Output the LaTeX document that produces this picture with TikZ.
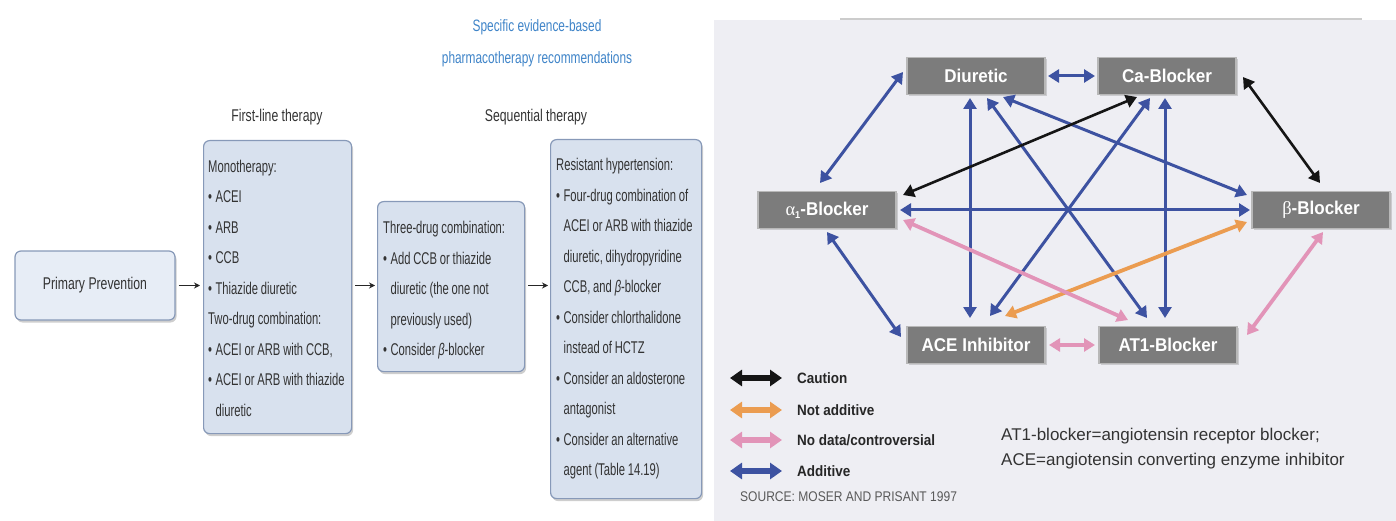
\documentclass[tikz,border=0pt]{standalone}
\usepackage{fontspec}
\setmainfont{Liberation Sans}
\newfontfamily\cond[FakeStretch=0.72]{Liberation Sans}
\newfontfamily\condb[FakeStretch=0.66]{Liberation Sans}
\newfontfamily\boxf[FakeStretch=0.92]{Liberation Sans}
\newfontfamily\legf[FakeStretch=0.9]{Liberation Sans}
\newfontfamily\srcf[FakeStretch=0.86]{Liberation Sans}
\newfontfamily\grk{Liberation Serif}
\usetikzlibrary{arrows.meta,shadows,calc}
\definecolor{boxfill}{HTML}{D8E1EE}
\definecolor{boxedge}{HTML}{8799B8}
\definecolor{ppfill}{HTML}{E7EDF6}
\definecolor{drugfill}{HTML}{7C7C7C}
\definecolor{drugedge}{HTML}{B8B8B8}
\definecolor{panelbg}{HTML}{EEEEF3}
\definecolor{addblue}{HTML}{3D52A1}
\definecolor{cautblack}{HTML}{151515}
\definecolor{notorange}{HTML}{EB9C50}
\definecolor{nodpink}{HTML}{E294B8}
\definecolor{titleblue}{HTML}{3F84C8}
\definecolor{txt}{HTML}{333333}
\newcommand\mybul{\textbullet\hspace{3.5pt}}
\newcommand\myind{\phantom{\textbullet}\hspace{3.5pt}}
\newcommand\condbody{\condb\fontsize{17}{30.5}\selectfont\setlength{\spaceskip}{2.8pt plus 1pt minus 0.5pt}}
\newcommand\condpp{\cond\fontsize{17}{20}\selectfont\setlength{\spaceskip}{3.4pt plus 1pt minus 0.5pt}}
\newcommand\condhead{\cond\fontsize{17}{18}\selectfont\setlength{\spaceskip}{3.4pt plus 1pt minus 0.5pt}}
\begin{document}
\begin{tikzpicture}[x=1pt,y=-1pt,
  flowbox/.style={draw=boxedge, fill=boxfill, rounded corners=6pt, line width=1.2pt,
    drop shadow={shadow xshift=1.5pt, shadow yshift=-2.5pt, opacity=.35, fill=black!55},
    inner sep=0pt},
  boxtext/.style={font=\condbody, text=txt, align=left, inner sep=0pt, anchor=west},
  title/.style={font=\cond\fontsize{16.5}{18}\selectfont, text=titleblue, inner sep=0pt},
  head/.style={font=\condhead, text=txt, inner sep=0pt},
  flowarr/.style={-{Stealth[length=6pt,width=6pt]}, line width=1pt, draw=black!85},
  drug/.style={fill=drugfill, draw=drugedge, line width=1.6pt, text=white,
    font=\boxf\bfseries\fontsize{18.5}{20}\selectfont, minimum width=138pt, minimum height=37pt, inner sep=0pt,
    drop shadow={shadow xshift=1.5pt, shadow yshift=-1.5pt, opacity=.25, fill=black!60}},
  dbl/.style={{Triangle[length=11pt,width=13pt]}-{Triangle[length=11pt,width=13pt]}, line width=3pt},
  addarr/.style={dbl, draw=addblue, fill=addblue},
  cautarr/.style={dbl, line width=2.6pt, draw=cautblack, fill=cautblack},
  notarr/.style={dbl, line width=3.8pt, draw=notorange, fill=notorange},
  nodarr/.style={dbl, line width=3.8pt, draw=nodpink, fill=nodpink},
  legarr/.style={{Triangle[length=12pt,width=16pt]}-{Triangle[length=12pt,width=16pt]}, line width=5.5pt},
  leg/.style={font=\legf\bfseries\fontsize{15}{17}\selectfont, text=black!85, anchor=west, inner sep=0pt},
  note/.style={font=\fontsize{17}{19}\selectfont, text=txt, anchor=west, inner sep=0pt},
  src/.style={font=\srcf\fontsize{14}{16}\selectfont, text=black!65, anchor=west, inner sep=0pt}
]
\useasboundingbox (0,0) rectangle (1396,521);

% ---------- left panel ----------
\node[title] (t1) at (537,27) {Specific evidence-based};
\node[title] (t2) at (537,59) {pharmacotherapy recommendations};
\node[head] (h1) at (277,117) {First-line therapy};
\node[head] (h2) at (536,117) {Sequential therapy};

\node[flowbox, fill=ppfill, minimum width=160pt, minimum height=69pt] (pp) at (95,285.5) {};
\node[boxtext, font=\condpp, anchor=center] (ppt) at (pp.center) {Primary Prevention};

\node[flowbox, anchor=north west, minimum width=148pt, minimum height=293pt] (fl) at (203,140) {};
\node[boxtext] (flt) at ($(fl.west)+(5,1)$)
 {Monotherapy:\\
  \mybul ACEI\\
  \mybul ARB\\
  \mybul CCB\\
  \mybul Thiazide diuretic\\
  Two-drug combination:\\
  \mybul ACEI or ARB with CCB,\\
  \mybul ACEI or ARB with thiazide\\
  \myind diuretic};

\node[flowbox, anchor=north west, minimum width=147pt, minimum height=170pt] (td) at (377,201) {};
\node[boxtext] (tdt) at ($(td.west)+(6,4)$)
 {Three-drug combination:\\
  \mybul Add CCB or thiazide\\
  \myind diuretic (the one not\\
  \myind previously used)\\
  \mybul Consider \textit{β}-blocker};

\node[flowbox, anchor=north west, minimum width=151pt, minimum height=359pt] (rh) at (550,139) {};
\node[boxtext] (rht) at ($(rh.west)+(6,0)$)
 {Resistant hypertension:\\
  \mybul Four-drug combination of\\
  \myind ACEI or ARB with thiazide\\
  \myind diuretic, dihydropyridine\\
  \myind CCB, and \textit{β}-blocker\\
  \mybul Consider chlorthalidone\\
  \myind instead of HCTZ\\
  \mybul Consider an aldosterone\\
  \myind antagonist\\
  \mybul Consider an alternative\\
  \myind agent (Table 14.19)};

\draw[flowarr, shorten <=3pt, shorten >=3pt] (pp.east) -- (pp.east -| fl.west);
\draw[flowarr, shorten <=3pt, shorten >=2pt] (fl.east |- pp.east) -- (td.west |- pp.east);
\draw[flowarr, shorten <=3pt, shorten >=2pt] (td.east |- pp.east) -- (rh.west |- pp.east);

% ---------- right panel ----------
\fill[panelbg] (714,20) rectangle (1396,521);
\draw[black!20, line width=1.5pt] (840,19) -- (1362,19);

\node[drug] (dia) at (976,76) {Diuretic};
\node[drug] (cab) at (1167,76) {Ca-Blocker};
\node[drug] (alp) at (827,210) {{\grk\mdseries α}\raisebox{-3pt}{\fontsize{10}{10}\selectfont 1}-Blocker};
\node[drug] (bet) at (1321,210) {{\grk\mdseries β}-Blocker};
\node[drug] (ace) at (976,345) {ACE Inhibitor};
\node[drug] (at1) at (1168,345) {AT1-Blocker};

% additive (blue)
\draw[addarr] ($(dia)+(72,0)$) -- ($(cab)+(-72,0)$);
\draw[addarr] ($(dia)+(-73,-4)$) -- ($(alp)+(-7,-27)$);
\draw[addarr] ($(alp)+(0,22)$) -- ($(ace)+(-75,-8)$);
\draw[addarr] ($(alp)+(73,0)$) -- ($(bet)+(-71,0)$);
\draw[addarr] ($(dia)+(-6,22)$) -- ($(ace)+(-6,-27)$);
\draw[addarr] ($(dia)+(11,22)$) -- ($(at1)+(-21,-27)$);
\draw[addarr] ($(dia)+(27,21)$) -- ($(bet)+(-74,-15)$);
\draw[addarr] ($(cab)+(-17,22)$) -- ($(ace)+(14,-29)$);
\draw[addarr] ($(cab)+(-2,22)$) -- ($(at1)+(-3,-27)$);
% caution (black)
\draw[cautarr] ($(cab)+(-30,21)$) -- ($(alp)+(76,-15)$);
\draw[cautarr] ($(cab)+(76,1)$) -- ($(bet)+(-1,-27)$);
% not additive (orange)
\draw[notarr] ($(bet)+(-74,12)$) -- ($(ace)+(29,-29)$);
% no data (pink)
\draw[nodarr] ($(alp)+(76,10)$) -- ($(at1)+(-40,-25)$);
\draw[nodarr] ($(ace)+(73,0)$) -- ($(at1)+(-73,0)$);
\draw[nodarr] ($(bet)+(2,22)$) -- ($(at1)+(79,-10)$);

% legend
\coordinate (c1a) at (730,378); \coordinate (c1b) at (782,378);
\coordinate (c2a) at (730,410); \coordinate (c2b) at (782,410);
\coordinate (c3a) at (730,440); \coordinate (c3b) at (782,440);
\coordinate (c4a) at (730,471); \coordinate (c4b) at (782,471);
\draw[legarr, draw=cautblack, fill=cautblack] (c1a) -- (c1b);
\draw[legarr, draw=notorange, fill=notorange] (c2a) -- (c2b);
\draw[legarr, draw=nodpink, fill=nodpink] (c3a) -- (c3b);
\draw[legarr, draw=addblue, fill=addblue] (c4a) -- (c4b);
\node[leg] (l1) at (797,378) {Caution};
\node[leg] (l2) at (797,410) {Not additive};
\node[leg] (l3) at (797,440) {No data/controversial};
\node[leg] (l4) at (797,471) {Additive};

\node[note] (n1) at (1001,436) {AT1-blocker=angiotensin receptor blocker;};
\node[note] (n2) at (1001,461) {ACE=angiotensin converting enzyme inhibitor};
\node[src] (s1) at (740,497) {SOURCE: MOSER AND PRISANT 1997};
\end{tikzpicture}
\end{document}
